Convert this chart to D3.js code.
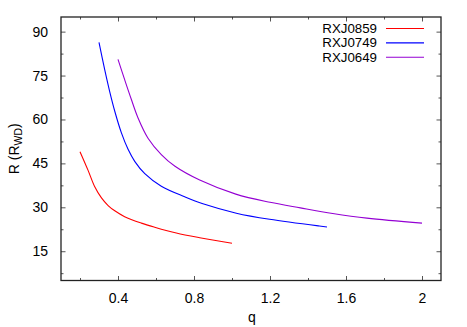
<!DOCTYPE html>
<html>
<head>
<meta charset="utf-8">
<title>R vs q</title>
<script src="https://cdn.jsdelivr.net/npm/d3@7"></script>
<style>
  body { margin: 0; background: #fff; }
  text { font-family: "Liberation Sans", Arial, sans-serif; fill: #000; }
</style>
</head>
<body>
<script>
// values
var qRed  = [0.20, 0.242, 0.277, 0.313, 0.348, 0.383, 0.435, 0.523, 0.593, 0.707, 0.83, 1.00];
var rRed  = [49.0, 42.7, 37.1, 33.2, 30.6, 28.8, 26.8, 24.6, 23.2, 21.2, 19.6, 17.7];
var qBlue = [0.30, 0.33, 0.356, 0.383, 0.418, 0.453, 0.488, 0.541, 0.628, 0.751, 0.847, 1.023, 1.198, 1.46, 1.50];
var rBlue = [86.3, 77.0, 69.6, 62.8, 55.4, 49.8, 45.7, 41.5, 37.2, 33.6, 31.2, 28.0, 25.9, 23.6, 23.3];
var qPurple = [0.40, 0.435, 0.47, 0.505, 0.558, 0.628, 0.70, 0.83, 1.02, 1.20, 1.36, 1.53, 1.71, 2.00];
var rPurple = [80.5, 73.6, 66.9, 60.6, 53.6, 48.0, 44.0, 39.3, 34.5, 31.7, 29.8, 27.9, 26.3, 24.6];

var seriesNames = ["RXJ0859", "RXJ0749", "RXJ0649"];
var seriesColors = ["#ff0000", "#0000ff", "#9400d3"];

var xTicks = [0.4, 0.8, 1.2, 1.6, 2];
var xMinor = [0.2, 0.6, 1.0, 1.4, 1.8];
var yTicks = [15, 30, 45, 60, 75, 90];
var yMinor = [7.5, 22.5, 37.5, 52.5, 67.5, 82.5];

var width = 467, height = 327;
var margin = {top: 17, right: 26, bottom: 46.5, left: 61};
var w = width - margin.left - margin.right,
    h = height - margin.top - margin.bottom;

var x = d3.scaleLinear().domain([0.1, 2.1]).range([0, w]);
var y = d3.scaleLinear().domain([5, 95]).range([h, 0]);

var svg = d3.select("body").append("svg")
    .attr("width", width)
    .attr("height", height);

var g = svg.append("g")
    .attr("transform", "translate(" + margin.left + "," + margin.top + ")");

// ticks, mirrored on all four sides, pointing inwards
function tickAxis(axis, vals, len, labels) {
  return axis.tickValues(vals).tickSizeInner(-len).tickSizeOuter(0)
    .tickFormat(labels ? d3.format("") : "");
}

g.append("g").attr("transform", "translate(0," + h + ")")
  .call(tickAxis(d3.axisBottom(x), xTicks, 4.5, true).tickPadding(13));
g.append("g").attr("transform", "translate(0," + h + ")")
  .call(tickAxis(d3.axisBottom(x), xMinor, 2.5, false));
g.append("g").call(tickAxis(d3.axisTop(x), xTicks, 4.5, false));
g.append("g").call(tickAxis(d3.axisTop(x), xMinor, 2.5, false));

g.append("g")
  .call(tickAxis(d3.axisLeft(y), yTicks, 4.5, true).tickPadding(13));
g.append("g").call(tickAxis(d3.axisLeft(y), yMinor, 2.5, false));
g.append("g").attr("transform", "translate(" + w + ",0)")
  .call(tickAxis(d3.axisRight(y), yTicks, 4.5, false));
g.append("g").attr("transform", "translate(" + w + ",0)")
  .call(tickAxis(d3.axisRight(y), yMinor, 2.5, false));

g.selectAll(".domain").remove();
g.selectAll(".tick line").attr("stroke", "#555").attr("stroke-width", 1);
g.selectAll(".tick text").attr("font-size", 14).attr("font-family", "Liberation Sans, Arial, sans-serif");

// frame
g.append("rect")
  .attr("x", 0).attr("y", 0).attr("width", w).attr("height", h)
  .attr("fill", "none").attr("stroke", "#222").attr("stroke-width", 1.3);

// axis titles
svg.append("text")
  .attr("x", margin.left + w / 2 + 1)
  .attr("y", 322)
  .attr("text-anchor", "middle")
  .attr("font-size", 14)
  .text("q");

var yl = svg.append("text")
  .attr("transform", "translate(19," + (margin.top + h / 2) + ") rotate(-90)")
  .attr("text-anchor", "middle")
  .attr("font-size", 14);
yl.append("tspan").text("R (R");
yl.append("tspan").attr("font-size", 10.5).attr("dy", 3).text("WD");
yl.append("tspan").attr("dy", -3).text(")");

// curves
var line = d3.line()
  .x(function(d) { return x(d[0]); })
  .y(function(d) { return y(d[1]); })
  .curve(d3.curveCatmullRom.alpha(0.5));

var series = [d3.zip(qRed, rRed), d3.zip(qBlue, rBlue), d3.zip(qPurple, rPurple)];

g.selectAll(".curve")
  .data(series)
  .enter().append("path")
  .attr("class", "curve")
  .attr("fill", "none")
  .attr("stroke", function(d, i) { return seriesColors[i]; })
  .attr("stroke-width", 1.1)
  .attr("d", line);

// legend
var leg = svg.append("g").attr("transform", "translate(377,28)");
seriesNames.forEach(function(name, i) {
  var row = leg.append("g").attr("transform", "translate(0," + (i * 14.4) + ")");
  row.append("text")
    .attr("x", 0).attr("y", 4.7)
    .attr("text-anchor", "end")
    .attr("font-size", 13.3)
    .text(name);
  row.append("line")
    .attr("x1", 9).attr("x2", 47)
    .attr("y1", 0.5).attr("y2", 0.5)
    .attr("stroke", seriesColors[i])
    .attr("stroke-width", 1.1);
});
</script>
</body>
</html>
